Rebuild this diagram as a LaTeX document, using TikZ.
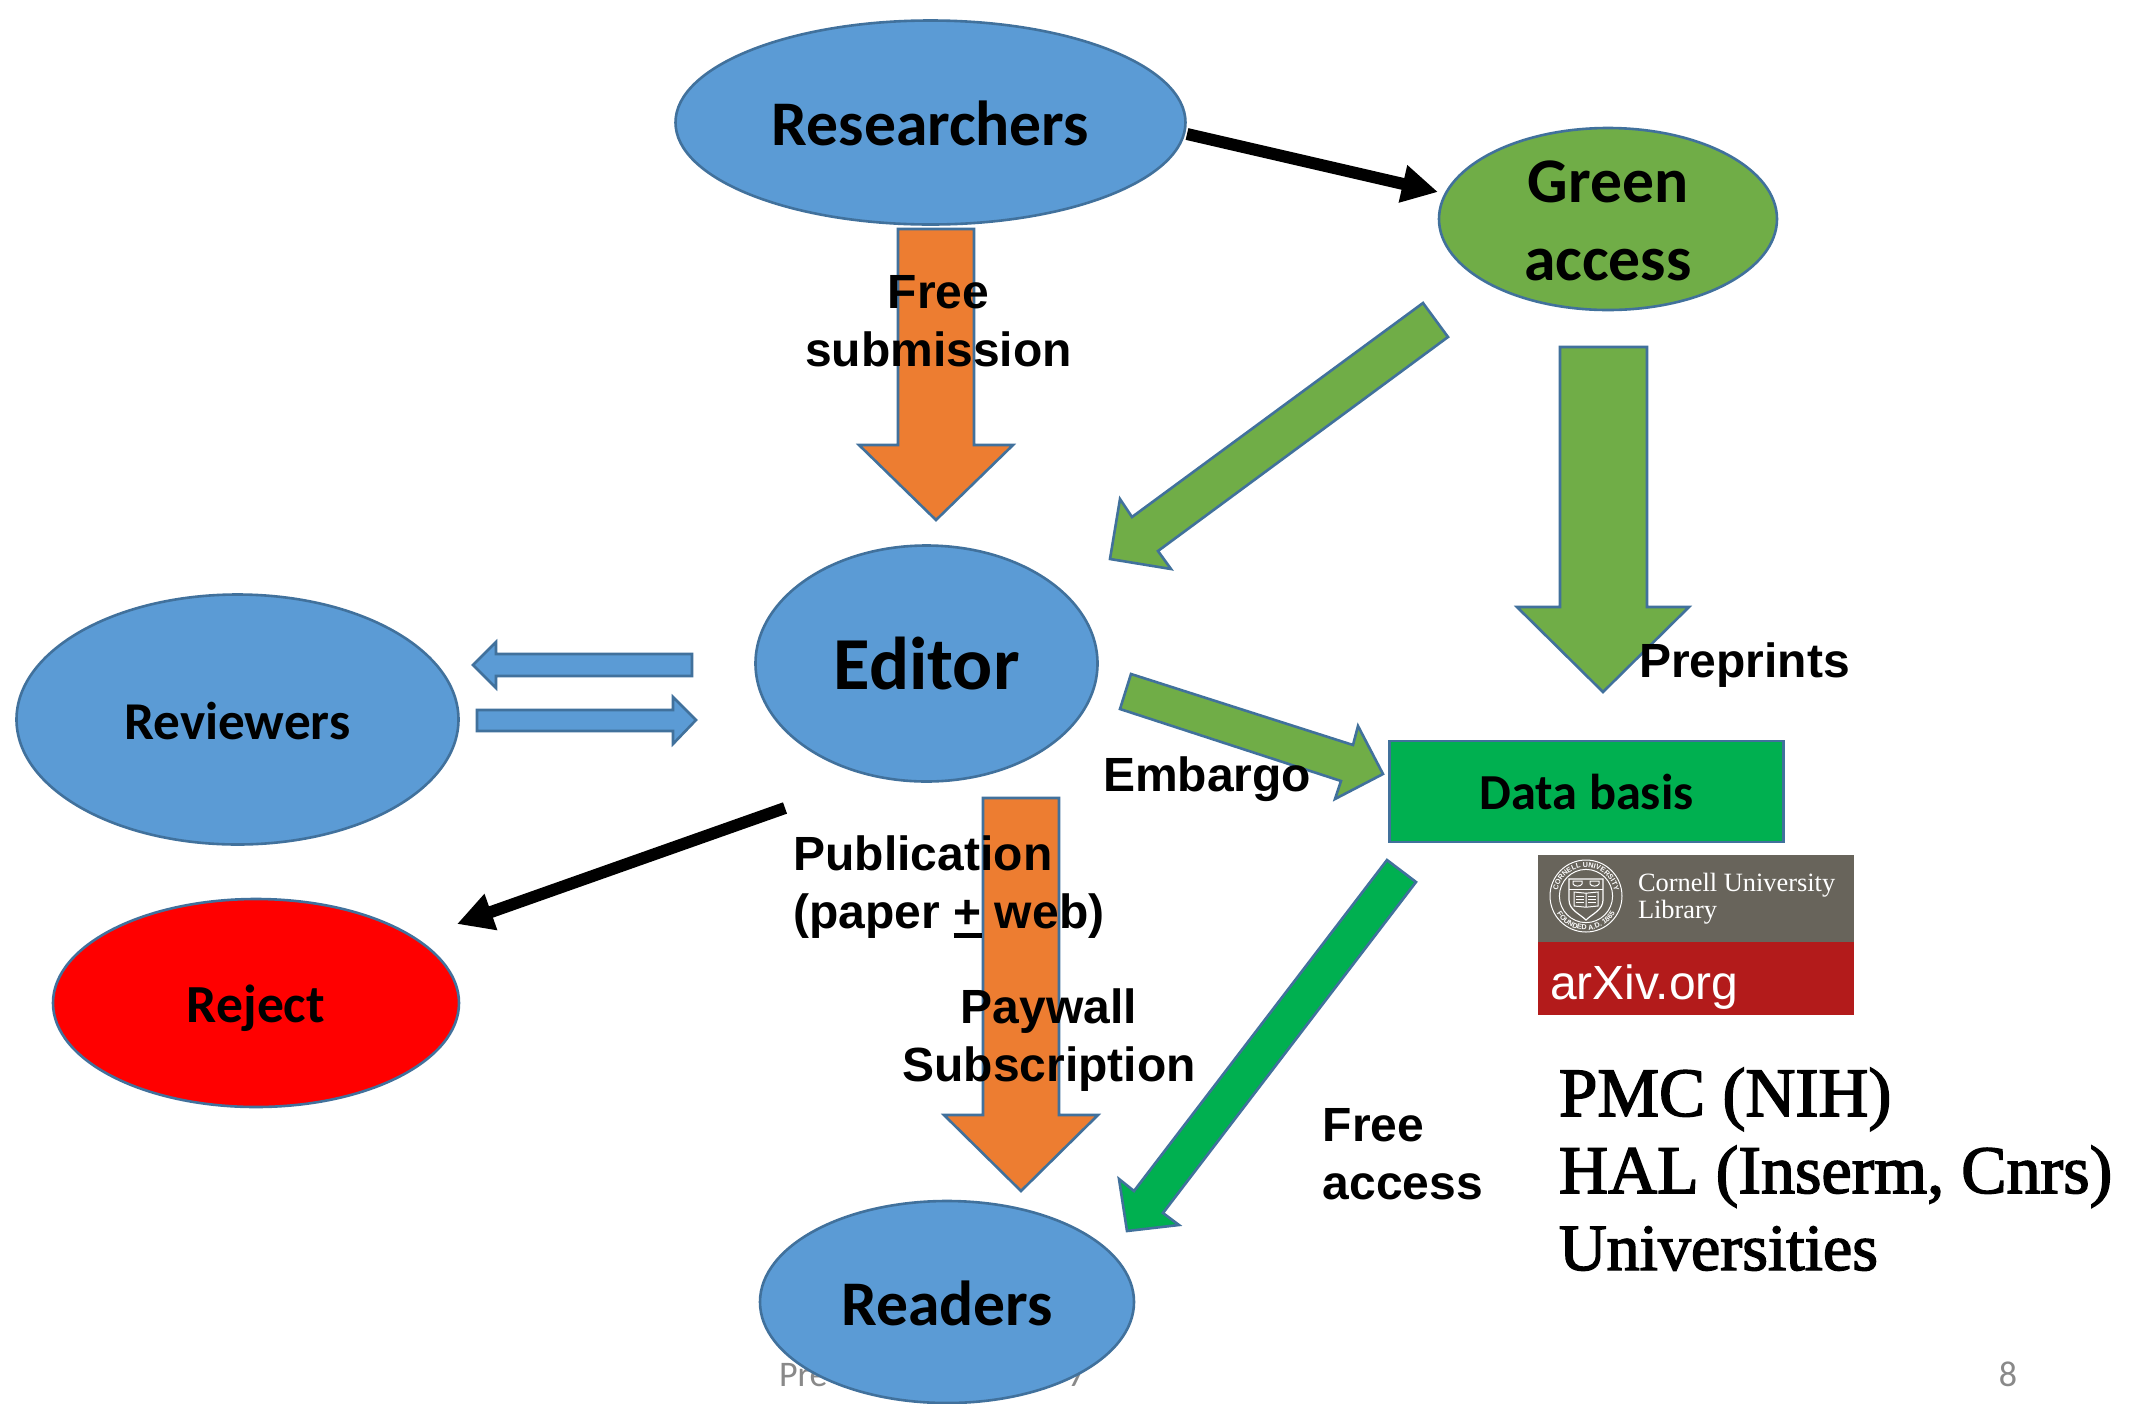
\documentclass[tikz,border=0pt]{standalone}
\usepackage{fontspec}
\setmainfont{Liberation Sans}
\newfontfamily\carlitofont{Carlito}
\newfontfamily\serifbold[FakeBold=2.2]{Liberation Serif}
\newfontfamily\serifplain{Liberation Serif}
\usetikzlibrary{shapes.geometric,arrows.meta,decorations.text}
\definecolor{cblue}{HTML}{5B9BD5}
\definecolor{cgreen}{HTML}{70AD47}
\definecolor{corange}{HTML}{ED7D31}
\definecolor{cstroke}{HTML}{41719C}
\definecolor{cdata}{HTML}{00B050}
\definecolor{cfoot}{HTML}{898989}
\definecolor{cgrey}{HTML}{68645B}
\definecolor{cred}{HTML}{B31B1B}
\newcommand{\lowered}[2]{\raisebox{-#1}[\height][\depth]{#2}}
\tikzset{
  oval/.style={shape=ellipse,draw=cstroke,line width=1.3pt,inner sep=0pt,outer sep=0pt,align=center,text=black},
  blockarrow/.style={draw=cstroke,line width=1.3pt,line join=miter,miter limit=10},
  blackarrow/.style={draw=black,line width=6pt,-{Triangle[length=18pt,width=18pt]}},
  calname/.style={font=\carlitofont\bfseries\fontsize{#1}{39}\selectfont},
  label/.style={text=black,font=\bfseries\fontsize{24}{29}\selectfont,align=center,inner sep=0pt,outer sep=0pt},
  footer/.style={text=cfoot,font=\carlitofont\fontsize{18}{18}\selectfont,inner sep=0pt,outer sep=0pt},
  logotext/.style={text=white,inner sep=0pt,outer sep=0pt,anchor=base west},
  listtext/.style={text=black,font=\serifbold\fontsize{#1}{34}\selectfont,inner sep=0pt,outer sep=0pt,anchor=base west}
}
\begin{document}
\begin{tikzpicture}[x=0.5pt,y=-0.5pt]
\useasboundingbox (0,0) rectangle (2144,1404);
\fill[white] (0,0) rectangle (2144,1404);
% footer, lying under the Readers ellipse
\node[footer,anchor=base west] (footleft) at (779,1386) {Pre};
\node[footer,anchor=base east] (footright) at (1086,1386) {7};
\node[footer,anchor=base] (pagenum) at (2008,1386) {8};
% ellipses
\node[oval,fill=cblue,minimum width=255pt,minimum height=102pt,calname=31.8] (researchers) at (930.5,122.5) {\lowered{.4pt}{Researchers}};
\node[oval,fill=cgreen,minimum width=169pt,minimum height=91pt,calname=31.8] (greenaccess) at (1608,219) {\lowered{.7pt}{Green}\\\lowered{.7pt}{access}};
\node[oval,fill=cblue,minimum width=171pt,minimum height=118pt,calname=37.4] (editor) at (926.5,663.5) {Editor};
\node[oval,fill=cblue,minimum width=221pt,minimum height=125pt,calname=26.6] (reviewers) at (237.5,719.5) {\lowered{.7pt}{Reviewers}};
\node[oval,fill=red,minimum width=203pt,minimum height=104pt,calname=26.8] (reject) at (256,1003) {\lowered{2.7pt}{Reject}};
\node[oval,fill=cblue,minimum width=187pt,minimum height=101pt,calname=31.8] (readers) at (947,1302) {\lowered{.7pt}{Readers}};
% data basis
\node[draw=cstroke,fill=cdata,line width=1.3pt,minimum width=197pt,minimum height=50.5pt,inner sep=0pt,outer sep=0pt,calname=25.2] (database) at (1586.5,791.5) {Data basis};
% logo
\fill[cgrey] (1538,855) rectangle (1854,942);
\fill[cred] (1538,942) rectangle (1854,1015);
\begin{scope}[shift={(1586,896)},x=1pt,y=1pt]
  \draw[white,line width=.5pt] (0,0) circle (18pt);
  \draw[white,line width=.5pt] (0,0) circle (13.3pt);
  \path[decorate,decoration={text along path,text align=center,text={|\fontsize{3.6}{4}\selectfont\bfseries\color{white}|CORNELL UNIVERSITY}}] (-14.4,0) arc[start angle=180,end angle=0,radius=14.4];
  \path[decorate,decoration={text along path,text align=center,text={|\fontsize{3.6}{4}\selectfont\bfseries\color{white}|FOUNDED A.D. 1865}}] (-17,0) arc[start angle=180,end angle=360,radius=17];
  \draw[white,line width=.6pt] (-8.5,8.5) -- (8.5,8.5) -- (8.5,-2) .. controls (8.5,-7) and (3,-9) .. (0,-12) .. controls (-3,-9) and (-8.5,-7) .. (-8.5,-2) -- cycle;
  \draw[white,line width=.4pt] (-8.5,3.5) -- (8.5,3.5);
  \draw[white,line width=.5pt] (-6.5,7.5) -- (-2,7.5) -- (-2,6) .. controls (-2.5,4.6) and (-6,4.6) .. (-6.5,6) -- cycle;
  \draw[white,line width=.5pt] (2,7.5) -- (6.5,7.5) -- (6.5,6) .. controls (6,4.6) and (2.5,4.6) .. (2,6) -- cycle;
  \draw[white,line width=.5pt] (-6,2) -- (0,1.4) -- (6,2) -- (6,-5) -- (0,-5.6) -- (-6,-5) -- cycle (0,1.4) -- (0,-5.6);
  \foreach \yy in {0,-1.5,-3} {\draw[white,line width=.3pt] (-5,\yy) -- (-1,\yy) (1,\yy) -- (5,\yy);}
\end{scope}
\node[logotext,font=\serifplain\fontsize{13.2}{13}\selectfont] (cornell) at (1638,891) {Cornell University};
\node[logotext,font=\serifplain\fontsize{13.2}{13}\selectfont] (library) at (1638,918) {Library};
\node[logotext,font=\fontsize{24}{24}\selectfont] (arxiv) at (1550,999) {arXiv.org};
% block arrows
\draw[blockarrow,fill=corange] (898,229) -- (974,229) -- (974,445) -- (1013,445) -- (936,520) -- (859,445) -- (898,445) -- cycle;
\draw[blockarrow,fill=corange] (983,798) -- (1059,798) -- (1059,1115) -- (1098,1115) -- (1021,1191) -- (944,1115) -- (983,1115) -- cycle;
\draw[blockarrow,fill=cgreen] (1560,347) -- (1647,347) -- (1647,607) -- (1689,607) -- (1603,692) -- (1517,607) -- (1560,607) -- cycle;
\draw[blockarrow,fill=cgreen] (1423,303) -- (1448,337) -- (1158,551) -- (1171,569) -- (1110,559) -- (1120,499) -- (1132,517) -- cycle;
\draw[blockarrow,fill=cgreen] (1131,674) -- (1120,709) -- (1341,781) -- (1335,799) -- (1383,774) -- (1358,726) -- (1353,745) -- cycle;
\draw[blockarrow,fill=cdata] (1387,860) -- (1416,882) -- (1163,1213) -- (1179,1225) -- (1127,1231) -- (1119,1179) -- (1134,1191) -- cycle;
\draw[blockarrow,fill=cblue] (692,654) -- (692,676) -- (496,676) -- (496,688) -- (473,665) -- (496,642) -- (496,654) -- cycle;
\draw[blockarrow,fill=cblue] (477,710) -- (477,731) -- (673,731) -- (673,744) -- (696,720) -- (673,697) -- (673,710) -- cycle;
% black connectors
\coordinate (rstart) at (1187,134);
\coordinate (gend) at (1438,192);
\coordinate (estart) at (785,808);
\coordinate (rjend) at (457,924);
\draw[blackarrow] (rstart) -- (gend);
\draw[blackarrow] (estart) -- (rjend);
% labels
\node[label] (lfree) at (938.5,321) {Free\\submission};
\node[label,anchor=base west] (lpre) at (1639,677) {Preprints};
\node[label,anchor=base west] (lemb) at (1103,791) {Embargo};
\node[label,align=left] (lpub) at (949,887) {Publication\\(paper \rlap{\rule[-4.7pt]{14pt}{2.4pt}}+ web)};
\node[label] (lpay) at (1049,1040) {Paywall\\Subscription};
\node[label,align=left] (lacc) at (1403,1154) {Free\\access};
% list
\node[listtext=34.6] (lpmc) at (1559,1116) {PMC (NIH)};
\node[listtext=34] (lhal) at (1559,1193) {HAL (Inserm, Cnrs)};
\node[listtext=33] (luni) at (1559,1270) {Universities};
\end{tikzpicture}
\end{document}
